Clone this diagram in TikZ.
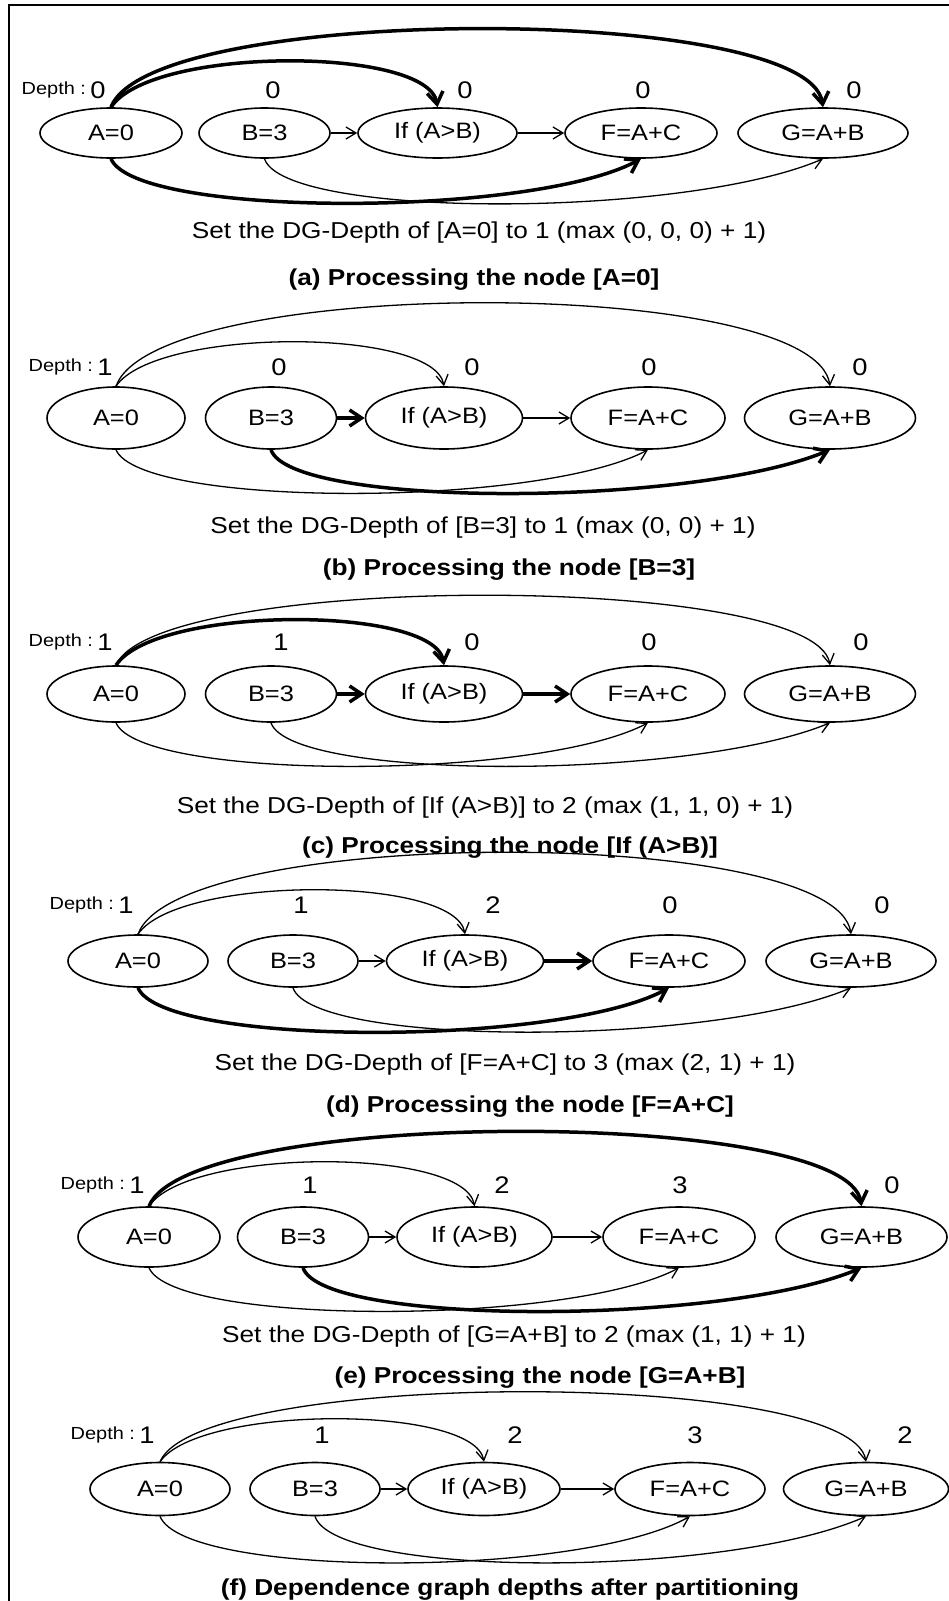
\documentclass[tikz,border=0pt]{standalone}
\usepackage{fontspec}
\setmainfont{Liberation Sans}[FakeStretch=1.14]
\usetikzlibrary{arrows.meta,positioning,shapes.geometric}
\tikzset{
  stmt/.style={ellipse,draw,line width=1.6pt,inner sep=0pt,
    font=\fontsize{22.3}{24}\selectfont},
  depthnum/.style={inner sep=1pt,font=\fontsize{24}{26}\selectfont},
  depthtag/.style={inner sep=1pt,font=\fontsize{17.5}{19}\selectfont},
  dep/.style={-{Straight Barb[length=10pt,width=12pt]},line width=1.3pt},
  hotdep/.style={-{Straight Barb[length=12pt,width=16pt]},line width=3.5pt},
  steptext/.style={inner sep=1pt,font=\fontsize{23}{26}\selectfont},
  panelcap/.style={inner sep=1pt,font=\fontsize{23}{26}\selectfont\bfseries}
}

\begin{document}
\begin{tikzpicture}[x=1pt,y=-1pt]
  \useasboundingbox (0,0) rectangle (948,1601);
  \draw[line width=2pt] (9,5) rectangle (990,1650);

  % (a) processing A=0
  \begin{scope}[stmt/.append style={minimum height=50pt}]
    \node[stmt,minimum width=142pt] (a1) at (111,133) {A=0};
    \node[stmt,minimum width=131pt] (a2) at (264.5,133) {B=3};
    \node[stmt,minimum width=159pt] (a3) at (437.5,133) {If (A>B)};
    \node[stmt,minimum width=152pt] (a4) at (641,133) {F=A+C};
    \node[stmt,minimum width=170pt] (a5) at (823,133) {G=A+B};
  \end{scope}
  \node[depthnum] (na1) at (98,90) {0};
  \node[depthtag,left=2pt of na1] (ta1) {Depth :};
  \node[depthnum] (na2) at (273,90) {0};
  \node[depthnum] (na3) at (465,90) {0};
  \node[depthnum] (na4) at (643,90) {0};
  \node[depthnum] (na5) at (854,90) {0};
  \draw[hotdep] (a1.north) .. controls +(40,-61) and +(-10,-61) .. (a3.north);
  \draw[hotdep] (a1.north) .. controls +(40,-104) and +(-15,-104) .. (a5.north);
  \draw[hotdep] (a1.south) .. controls +(25,59) and +(-110,59) .. (a4.south);
  \draw[dep] (a2.south) .. controls +(20,60) and +(-140,60) .. (a5.south);
  \draw[dep] (a2) -- (a3);
  \draw[dep] (a3) -- (a4);
  \node[steptext] (sa) at (479,233) {Set the DG-Depth of [A=0] to 1 (max (0, 0, 0) + 1)};
  \node[panelcap] (ca) at (474,280) {(a) Processing the node [A=0]};

  % (b) processing B=3
  \begin{scope}[stmt/.append style={minimum height=62pt}]
    \node[stmt,minimum width=138pt] (b1) at (116,418) {A=0};
    \node[stmt,minimum width=131pt] (b2) at (271,418) {B=3};
    \node[stmt,minimum width=157pt] (b3) at (444,418) {If (A>B)};
    \node[stmt,minimum width=154pt] (b4) at (648,418) {F=A+C};
    \node[stmt,minimum width=171pt] (b5) at (830,418) {G=A+B};
  \end{scope}
  \node[depthnum] (nb1) at (105,367) {1};
  \node[depthtag,left=2pt of nb1] (tb1) {Depth :};
  \node[depthnum] (nb2) at (279,367) {0};
  \node[depthnum] (nb3) at (472,367) {0};
  \node[depthnum] (nb4) at (649,367) {0};
  \node[depthnum] (nb5) at (860,367) {0};
  \draw[dep] (b1.north) .. controls +(40,-59) and +(-10,-59) .. (b3.north);
  \draw[dep] (b1.north) .. controls +(40,-111) and +(-15,-111) .. (b5.north);
  \draw[dep] (b1.south) .. controls +(25,58) and +(-110,58) .. (b4.south);
  \draw[hotdep] (b2.south) .. controls +(20,58) and +(-140,58) .. (b5.south);
  \draw[hotdep] (b2) -- (b3);
  \draw[dep] (b3) -- (b4);
  \node[steptext] (sb) at (483,528) {Set the DG-Depth of [B=3] to 1 (max (0, 0) + 1)};
  \node[panelcap] (cb) at (509,570) {(b) Processing the node [B=3]};

  % (c) processing If (A>B)
  \begin{scope}[stmt/.append style={minimum height=56pt}]
    \node[stmt,minimum width=138pt] (c1) at (116,694) {A=0};
    \node[stmt,minimum width=131pt] (c2) at (271,694) {B=3};
    \node[stmt,minimum width=157pt] (c3) at (444,694) {If (A>B)};
    \node[stmt,minimum width=154pt] (c4) at (648,694) {F=A+C};
    \node[stmt,minimum width=171pt] (c5) at (830,694) {G=A+B};
  \end{scope}
  \node[depthnum] (nc1) at (105,642) {1};
  \node[depthtag,left=2pt of nc1] (tc1) {Depth :};
  \node[depthnum] (nc2) at (281,642) {1};
  \node[depthnum] (nc3) at (472,642) {0};
  \node[depthnum] (nc4) at (649,642) {0};
  \node[depthnum] (nc5) at (861,642) {0};
  \draw[hotdep] (c1.north) .. controls +(40,-60) and +(-10,-60) .. (c3.north);
  \draw[dep] (c1.north) .. controls +(40,-93) and +(-15,-93) .. (c5.north);
  \draw[dep] (c1.south) .. controls +(25,58) and +(-110,58) .. (c4.south);
  \draw[dep] (c2.south) .. controls +(20,58) and +(-140,58) .. (c5.south);
  \draw[hotdep] (c2) -- (c3);
  \draw[hotdep] (c3) -- (c4);
  \node[steptext] (sc) at (485,808) {Set the DG-Depth of [If (A>B)] to 2 (max (1, 1, 0) + 1)};
  \node[panelcap] (cc) at (510,848) {(c) Processing the node [If (A>B)]};

  % (d) processing F=A+C
  \begin{scope}[stmt/.append style={minimum height=52pt}]
    \node[stmt,minimum width=140pt] (d1) at (138,961) {A=0};
    \node[stmt,minimum width=130pt] (d2) at (293,961) {B=3};
    \node[stmt,minimum width=157pt] (d3) at (465,961) {If (A>B)};
    \node[stmt,minimum width=152pt] (d4) at (669,961) {F=A+C};
    \node[stmt,minimum width=170pt] (d5) at (851,961) {G=A+B};
  \end{scope}
  \node[depthnum] (nd1) at (126,905) {1};
  \node[depthtag,left=2pt of nd1] (td1) {Depth :};
  \node[depthnum] (nd2) at (301,905) {1};
  \node[depthnum] (nd3) at (493,905) {2};
  \node[depthnum] (nd4) at (670,905) {0};
  \node[depthnum] (nd5) at (882,905) {0};
  \draw[dep] (d1.north) .. controls +(40,-59) and +(-10,-59) .. (d3.north);
  \draw[dep] (d1.north) .. controls +(40,-109) and +(-15,-109) .. (d5.north);
  \draw[hotdep] (d1.south) .. controls +(25,59) and +(-110,59) .. (d4.south);
  \draw[dep] (d2.south) .. controls +(20,59) and +(-140,59) .. (d5.south);
  \draw[dep] (d2) -- (d3);
  \draw[hotdep] (d3) -- (d4);
  \node[steptext] (sd) at (505,1065) {Set the DG-Depth of [F=A+C] to 3 (max (2, 1) + 1)};
  \node[panelcap] (cd) at (530,1107) {(d) Processing the node [F=A+C]};

  % (e) processing G=A+B
  \begin{scope}[stmt/.append style={minimum height=60pt}]
    \node[stmt,minimum width=142pt] (e1) at (149,1237) {A=0};
    \node[stmt,minimum width=131pt] (e2) at (303,1237) {B=3};
    \node[stmt,minimum width=155pt] (e3) at (474.5,1237) {If (A>B)};
    \node[stmt,minimum width=152pt] (e4) at (679,1237) {F=A+C};
    \node[stmt,minimum width=171pt] (e5) at (861.5,1237) {G=A+B};
  \end{scope}
  \node[depthnum] (ne1) at (137,1185) {1};
  \node[depthtag,left=2pt of ne1] (te1) {Depth :};
  \node[depthnum] (ne2) at (310,1185) {1};
  \node[depthnum] (ne3) at (502,1185) {2};
  \node[depthnum] (ne4) at (680,1185) {3};
  \node[depthnum] (ne5) at (892,1185) {0};
  \draw[dep] (e1.north) .. controls +(40,-59) and +(-10,-59) .. (e3.north);
  \draw[hotdep] (e1.north) .. controls +(40,-99) and +(-15,-99) .. (e5.north);
  \draw[dep] (e1.south) .. controls +(25,58) and +(-110,58) .. (e4.south);
  \draw[hotdep] (e2.south) .. controls +(20,58) and +(-140,58) .. (e5.south);
  \draw[dep] (e2) -- (e3);
  \draw[dep] (e3) -- (e4);
  \node[steptext] (se) at (514,1337) {Set the DG-Depth of [G=A+B] to 2 (max (1, 1) + 1)};
  \node[panelcap] (ce) at (540,1378) {(e) Processing the node [G=A+B]};

  % (f) final depths
  \begin{scope}[stmt/.append style={minimum height=53pt}]
    \node[stmt,minimum width=140pt] (f1) at (160,1489) {A=0};
    \node[stmt,minimum width=130pt] (f2) at (315,1489) {B=3};
    \node[stmt,minimum width=152pt] (f3) at (484,1489) {If (A>B)};
    \node[stmt,minimum width=150pt] (f4) at (690,1489) {F=A+C};
    \node[stmt,minimum width=165pt] (f5) at (866,1489) {G=A+B};
  \end{scope}
  \node[depthnum] (nf1) at (147,1435) {1};
  \node[depthtag,left=2pt of nf1] (tf1) {Depth :};
  \node[depthnum] (nf2) at (322,1435) {1};
  \node[depthnum] (nf3) at (515,1435) {2};
  \node[depthnum] (nf4) at (695,1435) {3};
  \node[depthnum] (nf5) at (905,1435) {2};
  \draw[dep] (f1.north) .. controls +(40,-57) and +(-10,-57) .. (f3.north);
  \draw[dep] (f1.north) .. controls +(40,-93) and +(-15,-93) .. (f5.north);
  \draw[dep] (f1.south) .. controls +(25,62) and +(-110,62) .. (f4.south);
  \draw[dep] (f2.south) .. controls +(20,62) and +(-140,62) .. (f5.south);
  \draw[dep] (f2) -- (f3);
  \draw[dep] (f3) -- (f4);
  \node[panelcap] (cf) at (510,1590) {(f) Dependence graph depths after partitioning};
\end{tikzpicture}
\end{document}
